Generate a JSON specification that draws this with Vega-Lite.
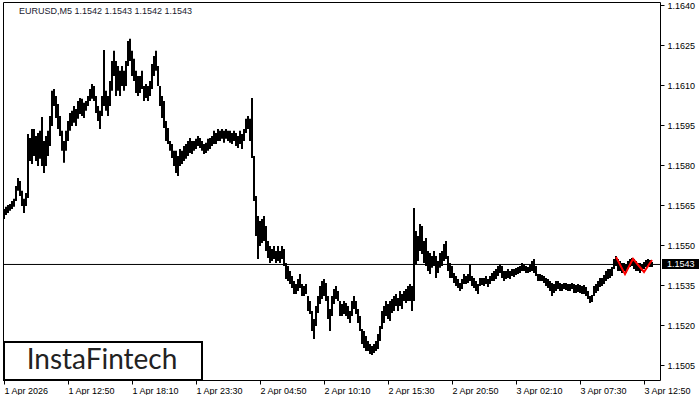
{
  "$schema": "https://vega.github.io/schema/vega-lite/v6.json",
  "width": 657,
  "height": 378,
  "padding": {"left": 2, "top": 1, "right": 0, "bottom": 0},
  "background": "white",
  "config": {
    "font": "Liberation Sans",
    "view": {"stroke": "black", "strokeWidth": 1},
    "axis": {"grid": false, "domain": false, "tickColor": "black", "labelColor": "black", "labelFontSize": 9, "labelFont": "Liberation Sans", "tickSize": 4, "title": null}
  },
  "datasets": {
    "bars": [
      {"i":0,"h":1.15636,"l":1.15599},{"i":2,"h":1.15644,"l":1.15614},{"i":4,"h":1.15651,"l":1.15621},{"i":6,"h":1.15655,"l":1.15629},{"i":8,"h":1.15666,"l":1.15636},{"i":10,"h":1.15674,"l":1.15644},{"i":12,"h":1.15722,"l":1.15666},{"i":14,"h":1.15752,"l":1.15704},{"i":16,"h":1.15741,"l":1.15685},{"i":18,"h":1.15704,"l":1.15647},{"i":20,"h":1.15674,"l":1.15621},{"i":22,"h":1.15696,"l":1.15647},{"i":24,"h":1.15917,"l":1.15677},{"i":26,"h":1.15902,"l":1.15816},{"i":28,"h":1.15936,"l":1.15805},{"i":30,"h":1.15936,"l":1.15835},{"i":32,"h":1.1591,"l":1.15816},{"i":34,"h":1.15921,"l":1.15797},{"i":36,"h":1.15929,"l":1.15824},{"i":38,"h":1.15981,"l":1.15797},{"i":40,"h":1.15891,"l":1.15771},{"i":42,"h":1.1591,"l":1.15797},{"i":44,"h":1.15929,"l":1.15835},{"i":46,"h":1.15985,"l":1.15872},{"i":48,"h":1.16079,"l":1.15947},{"i":50,"h":1.16086,"l":1.16022},{"i":52,"h":1.1606,"l":1.15977},{"i":54,"h":1.1603,"l":1.15936},{"i":56,"h":1.15985,"l":1.1591},{"i":58,"h":1.15929,"l":1.15854},{"i":60,"h":1.15891,"l":1.15809},{"i":62,"h":1.15929,"l":1.15854},{"i":64,"h":1.15966,"l":1.15891},{"i":66,"h":1.15996,"l":1.15929},{"i":68,"h":1.16004,"l":1.15947},{"i":70,"h":1.16022,"l":1.15959},{"i":72,"h":1.16011,"l":1.15947},{"i":74,"h":1.16041,"l":1.15974},{"i":76,"h":1.16052,"l":1.15992},{"i":78,"h":1.16049,"l":1.15985},{"i":80,"h":1.16034,"l":1.15977},{"i":82,"h":1.16041,"l":1.16004},{"i":84,"h":1.1606,"l":1.16022},{"i":86,"h":1.16086,"l":1.16041},{"i":88,"h":1.16105,"l":1.16049},{"i":90,"h":1.16097,"l":1.16041},{"i":92,"h":1.1606,"l":1.15996},{"i":94,"h":1.16022,"l":1.15966},{"i":96,"h":1.16004,"l":1.15936},{"i":98,"h":1.1606,"l":1.15985},{"i":100,"h":1.16232,"l":1.16022},{"i":102,"h":1.16079,"l":1.16004},{"i":104,"h":1.1606,"l":1.15985},{"i":106,"h":1.16116,"l":1.16022},{"i":108,"h":1.16191,"l":1.16079},{"i":110,"h":1.16229,"l":1.16135},{"i":112,"h":1.16191,"l":1.1606},{"i":114,"h":1.16172,"l":1.16079},{"i":116,"h":1.16154,"l":1.1606},{"i":118,"h":1.16172,"l":1.16097},{"i":120,"h":1.16154,"l":1.16079},{"i":122,"h":1.16191,"l":1.16097},{"i":124,"h":1.16266,"l":1.16172},{"i":126,"h":1.16274,"l":1.16191},{"i":128,"h":1.16229,"l":1.16135},{"i":130,"h":1.16199,"l":1.16116},{"i":132,"h":1.16154,"l":1.16071},{"i":134,"h":1.16135,"l":1.1606},{"i":136,"h":1.16135,"l":1.16071},{"i":138,"h":1.16154,"l":1.16086},{"i":140,"h":1.16097,"l":1.16041},{"i":142,"h":1.16105,"l":1.16052},{"i":144,"h":1.16097,"l":1.16041},{"i":146,"h":1.16116,"l":1.1606},{"i":148,"h":1.1618,"l":1.16086},{"i":150,"h":1.1621,"l":1.16135},{"i":152,"h":1.16229,"l":1.16154},{"i":154,"h":1.16172,"l":1.16097},{"i":156,"h":1.16097,"l":1.16022},{"i":158,"h":1.1606,"l":1.15977},{"i":160,"h":1.16041,"l":1.1594},{"i":162,"h":1.15966,"l":1.15891},{"i":164,"h":1.1594,"l":1.1588},{"i":166,"h":1.15891,"l":1.15854},{"i":168,"h":1.1588,"l":1.15827},{"i":170,"h":1.15854,"l":1.15797},{"i":172,"h":1.15854,"l":1.15771},{"i":174,"h":1.15835,"l":1.1576},{"i":176,"h":1.15861,"l":1.15797},{"i":178,"h":1.15854,"l":1.15805},{"i":180,"h":1.15872,"l":1.15816},{"i":182,"h":1.1588,"l":1.15824},{"i":184,"h":1.15891,"l":1.15835},{"i":186,"h":1.15902,"l":1.15846},{"i":188,"h":1.15891,"l":1.15842},{"i":190,"h":1.15891,"l":1.15854},{"i":192,"h":1.15899,"l":1.15861},{"i":194,"h":1.1591,"l":1.15872},{"i":196,"h":1.15902,"l":1.15865},{"i":198,"h":1.15891,"l":1.15854},{"i":200,"h":1.1588,"l":1.15842},{"i":202,"h":1.15884,"l":1.15846},{"i":204,"h":1.15899,"l":1.15854},{"i":206,"h":1.15902,"l":1.15861},{"i":208,"h":1.1591,"l":1.15872},{"i":210,"h":1.15929,"l":1.1588},{"i":212,"h":1.15921,"l":1.1588},{"i":214,"h":1.15936,"l":1.15891},{"i":216,"h":1.15929,"l":1.15891},{"i":218,"h":1.15936,"l":1.15899},{"i":220,"h":1.15929,"l":1.15884},{"i":222,"h":1.15936,"l":1.15899},{"i":224,"h":1.15929,"l":1.15891},{"i":226,"h":1.15929,"l":1.15884},{"i":228,"h":1.15921,"l":1.1588},{"i":230,"h":1.15929,"l":1.15891},{"i":232,"h":1.15921,"l":1.15872},{"i":234,"h":1.1591,"l":1.15865},{"i":236,"h":1.15929,"l":1.1588},{"i":238,"h":1.15917,"l":1.15861},{"i":240,"h":1.15936,"l":1.15891},{"i":242,"h":1.15974,"l":1.15921},{"i":244,"h":1.15985,"l":1.15936},{"i":246,"h":1.15974,"l":1.15891},{"i":248,"h":1.16052,"l":1.15827},{"i":250,"h":1.15835,"l":1.15666},{"i":252,"h":1.15685,"l":1.15535},{"i":254,"h":1.1561,"l":1.15449},{"i":256,"h":1.15591,"l":1.15497},{"i":258,"h":1.15599,"l":1.15509},{"i":260,"h":1.1561,"l":1.15516},{"i":262,"h":1.15572,"l":1.15479},{"i":264,"h":1.15516,"l":1.15452},{"i":266,"h":1.15497,"l":1.15434},{"i":268,"h":1.15486,"l":1.15441},{"i":270,"h":1.15497,"l":1.15449},{"i":272,"h":1.15479,"l":1.15434},{"i":274,"h":1.15497,"l":1.15441},{"i":276,"h":1.15479,"l":1.15434},{"i":278,"h":1.15497,"l":1.15449},{"i":280,"h":1.15486,"l":1.15422},{"i":282,"h":1.15434,"l":1.15374},{"i":284,"h":1.15422,"l":1.15366},{"i":286,"h":1.15404,"l":1.15355},{"i":288,"h":1.15385,"l":1.1534},{"i":290,"h":1.15366,"l":1.15317},{"i":292,"h":1.15355,"l":1.15317},{"i":294,"h":1.15374,"l":1.15329},{"i":296,"h":1.15392,"l":1.1534},{"i":298,"h":1.15355,"l":1.1531},{"i":300,"h":1.15347,"l":1.1531},{"i":302,"h":1.15355,"l":1.15317},{"i":304,"h":1.1531,"l":1.15254},{"i":306,"h":1.15291,"l":1.15242},{"i":308,"h":1.15254,"l":1.15179},{"i":310,"h":1.15224,"l":1.15149},{"i":312,"h":1.15272,"l":1.15197},{"i":314,"h":1.1531,"l":1.15246},{"i":316,"h":1.15347,"l":1.1528},{"i":318,"h":1.15366,"l":1.15299},{"i":320,"h":1.15374,"l":1.1531},{"i":322,"h":1.15359,"l":1.15291},{"i":324,"h":1.1531,"l":1.15224},{"i":326,"h":1.15261,"l":1.15179},{"i":328,"h":1.1531,"l":1.15235},{"i":330,"h":1.15336,"l":1.1528},{"i":332,"h":1.15347,"l":1.15299},{"i":334,"h":1.15329,"l":1.15291},{"i":336,"h":1.15291,"l":1.15235},{"i":338,"h":1.1528,"l":1.15235},{"i":340,"h":1.15291,"l":1.15242},{"i":342,"h":1.15284,"l":1.15235},{"i":344,"h":1.15272,"l":1.15224},{"i":346,"h":1.15254,"l":1.15209},{"i":348,"h":1.15291,"l":1.15235},{"i":350,"h":1.1531,"l":1.15261},{"i":352,"h":1.15291,"l":1.15242},{"i":354,"h":1.15261,"l":1.15209},{"i":356,"h":1.15235,"l":1.15179},{"i":358,"h":1.15186,"l":1.1513},{"i":360,"h":1.15179,"l":1.15115},{"i":362,"h":1.1516,"l":1.15104},{"i":364,"h":1.15141,"l":1.15104},{"i":366,"h":1.1513,"l":1.15092},{"i":368,"h":1.15122,"l":1.15089},{"i":370,"h":1.1513,"l":1.15096},{"i":372,"h":1.15141,"l":1.15104},{"i":374,"h":1.15167,"l":1.15111},{"i":376,"h":1.15197,"l":1.15141},{"i":378,"h":1.15254,"l":1.15186},{"i":380,"h":1.15272,"l":1.15209},{"i":382,"h":1.15291,"l":1.15235},{"i":384,"h":1.1528,"l":1.15224},{"i":386,"h":1.15291,"l":1.15216},{"i":388,"h":1.15299,"l":1.15246},{"i":390,"h":1.1531,"l":1.15254},{"i":392,"h":1.15317,"l":1.15272},{"i":394,"h":1.15302,"l":1.15254},{"i":396,"h":1.15329,"l":1.15272},{"i":398,"h":1.15317,"l":1.15261},{"i":400,"h":1.15329,"l":1.15291},{"i":402,"h":1.15336,"l":1.15284},{"i":404,"h":1.15347,"l":1.15291},{"i":406,"h":1.15355,"l":1.15291},{"i":408,"h":1.15347,"l":1.15254},{"i":410,"h":1.1564,"l":1.15291},{"i":412,"h":1.15554,"l":1.1543},{"i":414,"h":1.15535,"l":1.15441},{"i":416,"h":1.1558,"l":1.15479},{"i":418,"h":1.15572,"l":1.15467},{"i":420,"h":1.15516,"l":1.15434},{"i":422,"h":1.15527,"l":1.15422},{"i":424,"h":1.15479,"l":1.15404},{"i":426,"h":1.15471,"l":1.15392},{"i":428,"h":1.1546,"l":1.15416},{"i":430,"h":1.15479,"l":1.15422},{"i":432,"h":1.1546,"l":1.15377},{"i":434,"h":1.15441,"l":1.15396},{"i":436,"h":1.15471,"l":1.15416},{"i":438,"h":1.15479,"l":1.15422},{"i":440,"h":1.15505,"l":1.15441},{"i":442,"h":1.15516,"l":1.15449},{"i":444,"h":1.1546,"l":1.15404},{"i":446,"h":1.15434,"l":1.15377},{"i":448,"h":1.15422,"l":1.15377},{"i":450,"h":1.15396,"l":1.15359},{"i":452,"h":1.15385,"l":1.15347},{"i":454,"h":1.15374,"l":1.1534},{"i":456,"h":1.15359,"l":1.15329},{"i":458,"h":1.15374,"l":1.15336},{"i":460,"h":1.15392,"l":1.15355},{"i":462,"h":1.15385,"l":1.15355},{"i":464,"h":1.15392,"l":1.15359},{"i":466,"h":1.1543,"l":1.15366},{"i":468,"h":1.15385,"l":1.15347},{"i":470,"h":1.15377,"l":1.1534},{"i":472,"h":1.15366,"l":1.15329},{"i":474,"h":1.15355,"l":1.15317},{"i":476,"h":1.15377,"l":1.15347},{"i":478,"h":1.15377,"l":1.15351},{"i":480,"h":1.15377,"l":1.15347},{"i":482,"h":1.15385,"l":1.15355},{"i":484,"h":1.15374,"l":1.15344},{"i":486,"h":1.15385,"l":1.15355},{"i":488,"h":1.15396,"l":1.15366},{"i":490,"h":1.15404,"l":1.15366},{"i":492,"h":1.15411,"l":1.15374},{"i":494,"h":1.15422,"l":1.15385},{"i":496,"h":1.1543,"l":1.15396},{"i":498,"h":1.15422,"l":1.15377},{"i":500,"h":1.15404,"l":1.15366},{"i":502,"h":1.15404,"l":1.15374},{"i":504,"h":1.15411,"l":1.15377},{"i":506,"h":1.15404,"l":1.15374},{"i":508,"h":1.15411,"l":1.15385},{"i":510,"h":1.15411,"l":1.15381},{"i":512,"h":1.15415,"l":1.15389},{"i":514,"h":1.15419,"l":1.15392},{"i":516,"h":1.15422,"l":1.15396},{"i":518,"h":1.15434,"l":1.15404},{"i":520,"h":1.1543,"l":1.15404},{"i":522,"h":1.15422,"l":1.15396},{"i":524,"h":1.15419,"l":1.15396},{"i":526,"h":1.15426,"l":1.154},{"i":528,"h":1.15441,"l":1.15404},{"i":530,"h":1.15449,"l":1.15396},{"i":532,"h":1.15422,"l":1.15385},{"i":534,"h":1.15392,"l":1.15366},{"i":536,"h":1.15392,"l":1.15366},{"i":538,"h":1.15389,"l":1.15366},{"i":540,"h":1.15385,"l":1.15359},{"i":542,"h":1.15377,"l":1.15347},{"i":544,"h":1.15374,"l":1.1534},{"i":546,"h":1.15366,"l":1.15329},{"i":548,"h":1.15359,"l":1.1531},{"i":550,"h":1.15355,"l":1.15321},{"i":552,"h":1.15366,"l":1.15329},{"i":554,"h":1.15366,"l":1.15336},{"i":556,"h":1.15359,"l":1.15329},{"i":558,"h":1.15355,"l":1.15329},{"i":560,"h":1.15359,"l":1.15336},{"i":562,"h":1.15359,"l":1.15332},{"i":564,"h":1.15355,"l":1.15329},{"i":566,"h":1.15355,"l":1.15329},{"i":568,"h":1.15359,"l":1.15336},{"i":570,"h":1.15355,"l":1.15321},{"i":572,"h":1.15351,"l":1.15321},{"i":574,"h":1.15355,"l":1.15325},{"i":576,"h":1.15351,"l":1.15321},{"i":578,"h":1.15347,"l":1.15317},{"i":580,"h":1.15351,"l":1.15317},{"i":582,"h":1.15344,"l":1.1531},{"i":584,"h":1.15329,"l":1.15299},{"i":586,"h":1.1531,"l":1.15284},{"i":588,"h":1.15314,"l":1.15287},{"i":590,"h":1.15347,"l":1.1531},{"i":592,"h":1.15355,"l":1.15321},{"i":594,"h":1.15366,"l":1.15329},{"i":596,"h":1.15377,"l":1.15344},{"i":598,"h":1.15377,"l":1.15347},{"i":600,"h":1.15389,"l":1.15355},{"i":602,"h":1.15404,"l":1.15366},{"i":604,"h":1.15411,"l":1.15374},{"i":606,"h":1.15411,"l":1.15377},{"i":608,"h":1.15419,"l":1.15385},{"i":610,"h":1.15449,"l":1.15411},{"i":612,"h":1.1546,"l":1.15422},{"i":614,"h":1.15449,"l":1.15404},{"i":616,"h":1.15441,"l":1.15404},{"i":618,"h":1.15434,"l":1.15396},{"i":620,"h":1.15434,"l":1.15404},{"i":622,"h":1.1543,"l":1.15396},{"i":624,"h":1.15441,"l":1.15411},{"i":626,"h":1.15449,"l":1.15419},{"i":628,"h":1.15452,"l":1.15422},{"i":630,"h":1.15449,"l":1.15411},{"i":632,"h":1.15441,"l":1.15404},{"i":634,"h":1.15434,"l":1.15404},{"i":636,"h":1.15434,"l":1.15396},{"i":638,"h":1.1543,"l":1.15404},{"i":640,"h":1.15437,"l":1.15411},{"i":642,"h":1.15445,"l":1.15419},{"i":644,"h":1.15449,"l":1.15422},{"i":646,"h":1.15445,"l":1.15419},{"i":648,"h":1.15437,"l":1.15419}
    ],
    "zigzag": [
      {"i":612,"p":1.15456},{"i":621,"p":1.15392},{"i":629,"p":1.15449},{"i":640,"p":1.154},{"i":648,"p":1.15445}
    ],
    "current": [{"price":1.1543,"label":"1.1543"}],
    "header": [{"label":"EURUSD,M5  1.1542 1.1543 1.1542 1.1543"}],
    "logo": [{"name":"InstaFintech"}]
  },
  "encoding": {
    "x": {"type": "quantitative", "scale": {"domain": [-1, 656], "nice": false, "zero": false},
      "axis": {"orient": "bottom", "values": [0,64,128,192,256,320,384,448,512,576,640],
        "labelExpr": "['1 Apr 2026','1 Apr 12:50','1 Apr 18:10','1 Apr 23:30','2 Apr 04:50','2 Apr 10:10','2 Apr 15:30','2 Apr 20:50','3 Apr 02:10','3 Apr 07:30','3 Apr 12:50'][round(datum.value/64)]",
        "labelAlign": "left", "labelPadding": 2, "labelFlush": false, "labelOverlap": false, "labelBound": false, "labelBaseline": "top"}},
    "y": {"type": "quantitative", "scale": {"domain": [1.14995, 1.16412], "nice": false, "zero": false},
      "axis": {"orient": "right", "values": [1.1505,1.152,1.1535,1.155,1.1565,1.158,1.1595,1.161,1.1625,1.164], "format": ".4f", "labelPadding": 3, "labelOverlap": false, "labelFlush": false, "labelBound": false}}
  },
  "layer": [
    {
      "data": {"name": "bars"},
      "mark": {"type": "rule", "stroke": "black", "strokeWidth": 2},
      "encoding": {"x": {"field": "i"}, "y": {"field": "l"}, "y2": {"field": "h"}}
    },
    {
      "data": {"name": "current"},
      "mark": {"type": "rule", "stroke": "black", "strokeWidth": 1, "yOffset": 0.5},
      "encoding": {"y": {"field": "price"}}
    },
    {
      "data": {"name": "zigzag"},
      "mark": {"type": "line", "stroke": "#ff0000", "strokeWidth": 2},
      "encoding": {"x": {"field": "i"}, "y": {"field": "p"}}
    },
    {
      "data": {"name": "logo"},
      "mark": {"type": "rect", "fill": "white", "stroke": "black", "strokeWidth": 2},
      "encoding": {"x": {"datum": 0}, "x2": {"datum": 198}, "y": {"datum": 1.15137}, "y2": {"datum": 1.14995}}
    },
    {
      "data": {"name": "logo"},
      "mark": {"type": "text", "font": "Lato", "fontSize": 28, "color": "#222222", "align": "center", "baseline": "middle"},
      "encoding": {"x": {"datum": 98}, "y": {"datum": 1.15066}, "text": {"field": "name"}}
    },
    {
      "data": {"name": "header"},
      "mark": {"type": "text", "fontSize": 9, "color": "#1a1a2e", "align": "left", "baseline": "middle"},
      "encoding": {"x": {"datum": 15}, "y": {"datum": 1.16379}, "text": {"field": "label"}}
    },
    {
      "data": {"name": "current"},
      "mark": {"type": "rule", "stroke": "black", "strokeWidth": 10, "strokeCap": "butt"},
      "encoding": {"x": {"datum": 658}, "x2": {"datum": 695}, "y": {"field": "price"}}
    },
    {
      "data": {"name": "current"},
      "mark": {"type": "text", "fontSize": 9, "color": "white", "align": "left", "baseline": "middle"},
      "encoding": {"x": {"datum": 663}, "y": {"field": "price"}, "text": {"field": "label"}}
    }
  ]
}
